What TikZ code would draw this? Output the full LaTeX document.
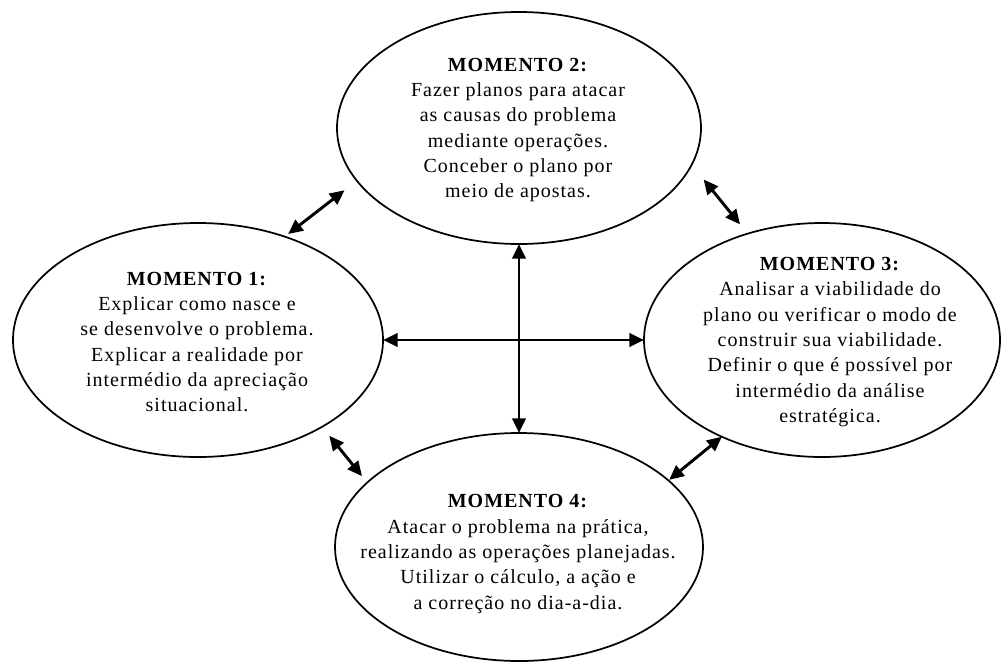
\documentclass[tikz,border=0pt]{standalone}
\usepackage{fontspec}
\setmainfont{Liberation Serif}[LetterSpace=5]
\usetikzlibrary{shapes.geometric,arrows.meta}
\begin{document}
\begin{tikzpicture}[x=0.75pt,y=-0.75pt,
  mom/.style={ellipse, draw, line width=1.3pt, outer sep=0pt, inner sep=0pt},
  txt/.style={align=center, font=\fontsize{15}{19}\selectfont, inner sep=0pt},
  arr/.style={line width=2.2pt, {Triangle[length=11pt,width=10pt]}-{Triangle[length=11pt,width=10pt]}}]
\useasboundingbox (0,0) rectangle (1003,664);
% ellipses
\node[mom, minimum width=277.5pt, minimum height=175.5pt] (e1) at (198,340) {};
\node[mom, minimum width=273pt, minimum height=174pt] (e2) at (519,128) {};
\node[mom, minimum width=267pt, minimum height=175.5pt] (e3) at (822,340) {};
\node[mom, minimum width=276pt, minimum height=171pt] (e4) at (519,547) {};
% texts
\node[txt] (t2) at (518,130) {\textbf{MOMENTO 2:}\\Fazer planos para atacar\\as causas do problema\\mediante operações.\\Conceber o plano por\\meio de apostas.};
\node[txt] (t1) at (197,342) {\textbf{MOMENTO 1:}\\Explicar como nasce e\\se desenvolve o problema.\\Explicar a realidade por\\intermédio da apreciação\\situacional.};
\node[txt] (t3) at (830,342) {\textbf{MOMENTO 3:}\\Analisar a viabilidade do\\plano ou verificar o modo de\\construir sua viabilidade.\\Definir o que é possível por\\intermédio da análise\\estratégica.};
\node[txt] (t4) at (518,554) {\textbf{MOMENTO 4:}\\Atacar o problema na prática,\\realizando as operações planejadas.\\Utilizar o cálculo, a ação e\\a correção no dia-a-dia.};
% connectors
\draw[arr] (e2.south) -- (e4.north);
\draw[arr] (e1.east) -- (e3.west);
\draw[arr, shorten <=3.2pt, shorten >=11.7pt] (e1.50.1) -- (e2.198.9);
\draw[arr, shorten <=14.25pt, shorten >=9pt] (e2.-12.9) -- (e3.125.9);
\draw[arr, shorten <=8.6pt, shorten >=6.2pt] (e1.-35.8) -- (e4.157.9);
\draw[arr, shorten >=0.75pt] (e3.224.9) -- (e4.24.9);
\end{tikzpicture}
\end{document}
